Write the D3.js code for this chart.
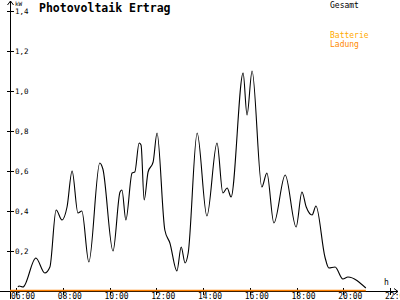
<!DOCTYPE html>
<html>
<head>
<meta charset="utf-8">
<script src="https://cdn.jsdelivr.net/npm/d3@7"></script>
<style>
  body { margin: 0; background: #fff; }
  svg { display: block; }
  text { font-family: "DejaVu Sans Mono", monospace; }
</style>
</head>
<body>
<div id="graf"></div>
<script>
// Werte
var zeiten = ['06:05','06:08','06:18','06:51','07:14','07:27','07:43','07:58','08:11','08:24','08:39','08:49',
  '09:07','09:35','09:43','10:09','10:27','10:32','10:42','10:58','11:05','11:16','11:21','11:29','11:39',
  '11:52','12:02','12:22','12:35','12:53','13:04','13:14','13:22','13:45','14:10','14:36','14:51','15:02',
  '15:12','15:43','15:53','16:06','16:31','16:44','17:02','17:31','17:59','18:14','18:25','18:40','18:50',
  '19:13','19:23','19:39','19:59','20:12','20:58']
var gesamt = [0.02,0.025,0.02,0.165,0.09,0.12,0.405,0.355,0.42,0.6,0.39,0.40,
  0.145,0.64,0.61,0.2,0.495,0.505,0.355,0.59,0.595,0.74,0.73,0.455,0.595,
  0.645,0.79,0.305,0.24,0.1,0.22,0.14,0.19,0.79,0.375,0.74,0.49,0.515,
  0.47,1.09,0.88,1.1,0.52,0.59,0.34,0.58,0.32,0.495,0.42,0.38,0.425,
  0.17,0.115,0.12,0.06,0.07,0.015]
var batterie = ['06:00', '20:58']   // Batterie Ladung: 0 kW
var yTicks = [0.2, 0.4, 0.6, 0.8, 1.0, 1.2, 1.4]
var xTicks = [6, 8, 10, 12, 14, 16, 18, 20, 22]

var ancho_total = 400, alto_total = 300

var svg = d3.select('#graf').append('svg')
  .attr('width', ancho_total)
  .attr('height', alto_total)

var parseHora = s => { var p = s.split(':'); return +p[0] + p[1] / 60 }

// Escaladores
var x = d3.scaleLinear().domain([6, 22]).range([16, 390])
var y = d3.scaleLinear().domain([0, 1.4]).range([291, 11])

var data = zeiten.map((t, i) => ({ h: parseHora(t), v: gesamt[i] }))

// Y-Achse
svg.append('line')
  .attr('x1', 10.5).attr('x2', 10.5)
  .attr('y1', 1).attr('y2', 299)
  .attr('stroke', '#000')
svg.append('path')
  .attr('d', 'M7.5,5 L10.5,1 L13.5,5')
  .attr('fill', 'none').attr('stroke', '#000')

svg.append('g').selectAll('line')
  .data(yTicks).join('line')
  .attr('x1', 7).attr('x2', 14)
  .attr('y1', d => Math.round(y(d)) + 0.5)
  .attr('y2', d => Math.round(y(d)) + 0.5)
  .attr('stroke', '#000')

svg.append('g').selectAll('text')
  .data(yTicks).join('text')
  .attr('x', 15)
  .attr('y', d => y(d) + 3)
  .attr('font-size', '7.5px')
  .text(d => d3.format('.1f')(d).replace('.', ','))

svg.append('text')
  .attr('x', 15).attr('y', 5.5)
  .attr('font-size', '6px')
  .text('kW')

// X-Achse
svg.append('line')
  .attr('x1', 0).attr('x2', 398)
  .attr('y1', 291.5).attr('y2', 291.5)
  .attr('stroke', '#000')
svg.append('path')
  .attr('d', 'M394,288.5 L398,291.5 L394,294.5')
  .attr('fill', 'none').attr('stroke', '#000')

svg.append('g').selectAll('line')
  .data(xTicks).join('line')
  .attr('x1', d => Math.round(x(d)) + 0.5)
  .attr('x2', d => Math.round(x(d)) + 0.5)
  .attr('y1', 288).attr('y2', 295)
  .attr('stroke', '#000')

svg.append('g').selectAll('text')
  .data(xTicks).join('text')
  .attr('x', d => x(d) - 5)
  .attr('y', 299)
  .attr('font-size', '8px')
  .text(d => d3.format('02')(d) + ':00')

svg.append('text')
  .attr('x', 384).attr('y', 285)
  .attr('font-size', '8px')
  .text('h')

// Batterie Ladung
svg.append('line')
  .attr('x1', x(parseHora(batterie[0])) - 6)
  .attr('x2', x(parseHora(batterie[1])))
  .attr('y1', y(0) - 0.5).attr('y2', y(0) - 0.5)
  .attr('stroke', '#ff8000')
  .attr('stroke-width', 1.5)

// Linie Gesamt
var lineaGen = d3.line()
  .x(d => x(d.h))
  .y(d => y(d.v))
  .curve(d3.curveMonotoneX)

svg.append('path')
  .attr('d', lineaGen(data))
  .attr('fill', 'none')
  .attr('stroke', '#000')
  .attr('stroke-width', 1.1)

// Titel und Legende
svg.append('text')
  .attr('x', 39).attr('y', 12)
  .attr('font-size', '11.5px')
  .attr('font-weight', 'bold')
  .text('Photovoltaik Ertrag')

svg.append('text').attr('x', 330).attr('y', 8)
  .attr('font-size', '8px').attr('fill', '#000').text('Gesamt')
svg.append('text').attr('x', 330).attr('y', 38)
  .attr('font-size', '8px').attr('fill', '#ffaa00').text('Batterie')
svg.append('text').attr('x', 330).attr('y', 47)
  .attr('font-size', '8px').attr('fill', '#ff8800').text('Ladung')
</script>
</body>
</html>
